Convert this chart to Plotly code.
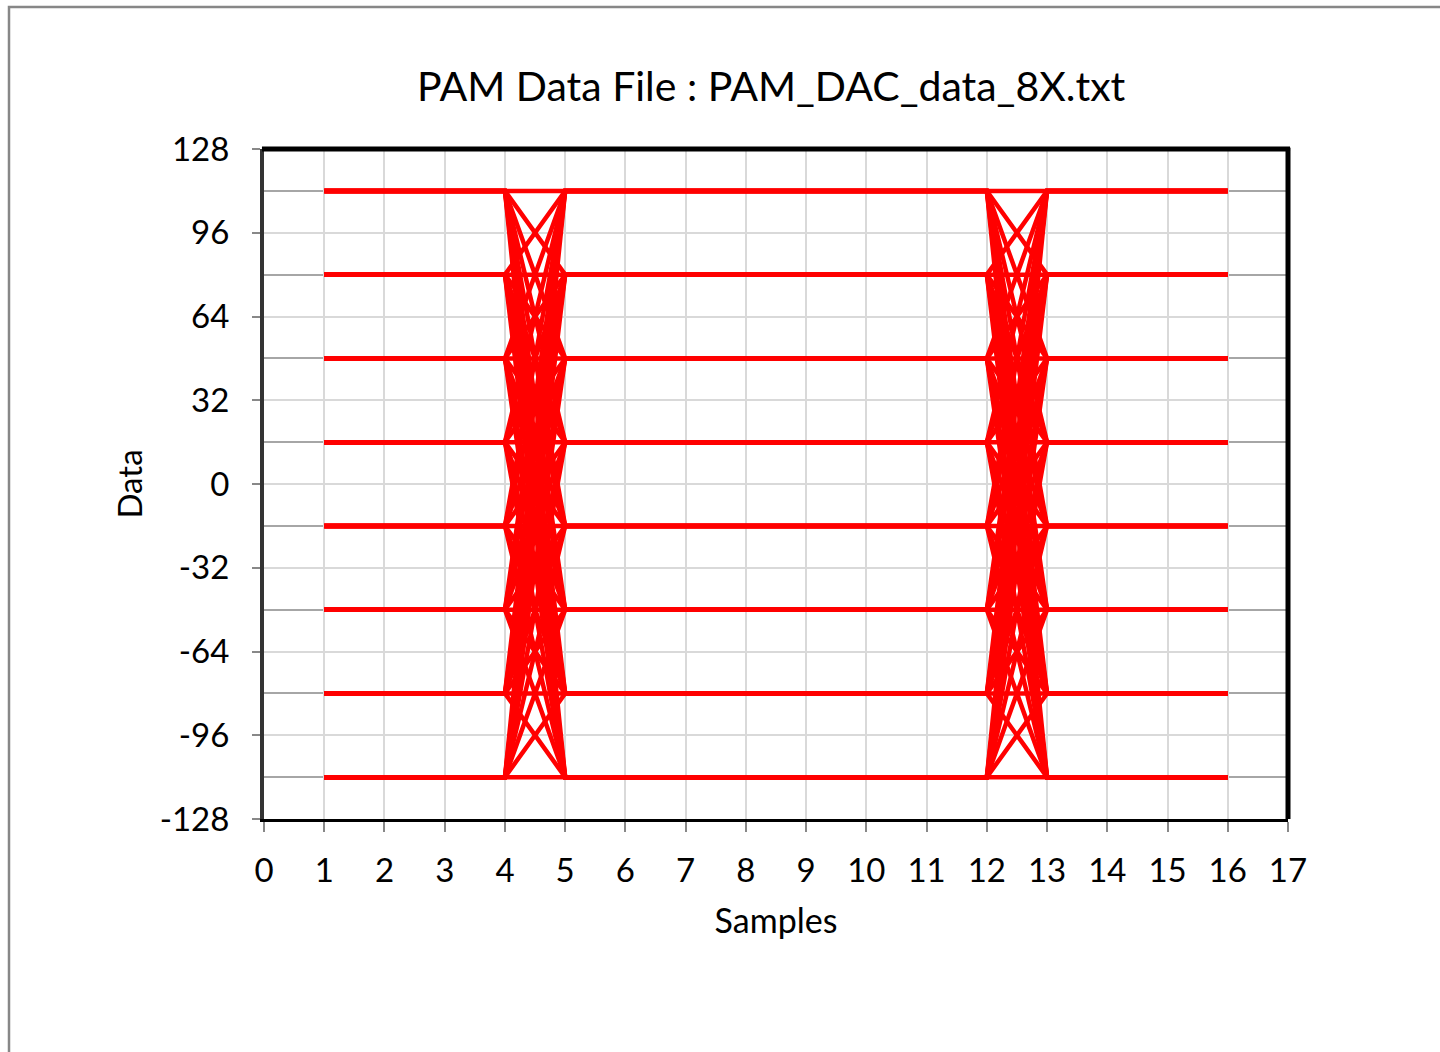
import itertools
import plotly.graph_objects as go

# PAM-8 levels
levels = [112, 80, 48, 16, -16, -48, -80, -112]
samples = list(range(1, 17))
# symbol index pairs (first symbol, second symbol) -- every transition combination
level_pairs = list(itertools.product(range(len(levels)), repeat=2))
# samples per segment: first symbol 4 samples, second 8 samples, first again 4
seg_lengths = [4, 8, 4]

x_ticks = list(range(0, 18))
y_ticks = list(range(-128, 129, 32))
y_tick_text = [str(v) for v in y_ticks]  # plain hyphen minus like the original

FONT = "Lato"

fig = go.Figure()
for a, b in level_pairs:
    y = [levels[a]] * seg_lengths[0] + [levels[b]] * seg_lengths[1] + [levels[a]] * seg_lengths[2]
    fig.add_trace(go.Scatter(
        x=samples, y=y, mode="lines",
        line=dict(color="#ff0000", width=4.5),
        showlegend=False, hoverinfo="skip",
    ))

fig.update_layout(
    width=1440, height=1052,
    margin=dict(l=264, r=152, t=149, b=233),
    paper_bgcolor="white", plot_bgcolor="white",
    font=dict(family=FONT, color="black", size=33),
    title=dict(text="PAM Data File : PAM_DAC_data_8X.txt",
               x=0.5355, xanchor="center", y=1 - 87 / 1052, yanchor="middle",
               font=dict(size=41, family=FONT)),
    xaxis=dict(
        range=[0, 17], tickmode="array", tickvals=x_ticks,
        showgrid=True, gridcolor="#d9d9d9", gridwidth=2,
        zeroline=False,
        showline=True, linecolor="black", linewidth=3,
        ticks="outside", ticklen=10, tickwidth=2, tickcolor="#888888",
        tickfont=dict(size=33),
        ticklabelstandoff=10,
        title=dict(text="Samples", font=dict(size=34), standoff=22),
    ),
    yaxis=dict(
        range=[-128, 128], tickmode="array", tickvals=y_ticks, ticktext=y_tick_text,
        showgrid=True, gridcolor="#d9d9d9", gridwidth=2,
        minor=dict(tickvals=[-112, -80, -48, -16, 16, 48, 80, 112],
                   showgrid=True, gridcolor="#a6a6a6", gridwidth=1.5, ticks=""),
        zeroline=False,
        showline=True, linecolor="#333333", linewidth=4,
        ticks="outside", ticklen=8, tickwidth=2, tickcolor="#888888",
        tickfont=dict(size=33),
        ticklabelstandoff=16,
        title=dict(text="Data", font=dict(size=33), standoff=8),
    ),
    shapes=[
        # top and right frame lines
        dict(type="line", xref="paper", yref="paper", x0=-0.002, x1=1.002, y0=1, y1=1,
             line=dict(color="black", width=5)),
        dict(type="line", xref="paper", yref="paper", x0=1, x1=1, y0=0, y1=1.002,
             line=dict(color="black", width=5)),
        # outer chart border
        dict(type="rect", xref="paper", yref="paper",
             x0=(9 - 264) / 1024, x1=1.3, y0=(819 - 1300) / 670, y1=(819 - 7) / 670,
             line=dict(color="#878787", width=2.5), fillcolor="rgba(0,0,0,0)", layer="below"),
    ],
)

fig.write_html("out.html")
